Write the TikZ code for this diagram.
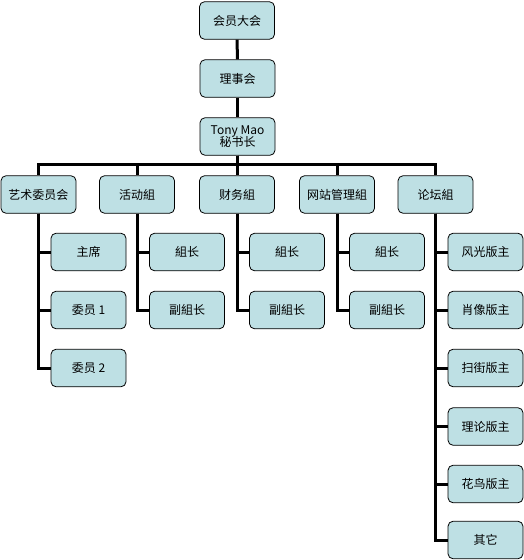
\documentclass[tikz,border=0pt]{standalone}
\usepackage{fontspec}
\newfontfamily\cjk{Noto Sans CJK SC}
\definecolor{boxfill}{RGB}{190,224,228}
\begin{document}
\begin{tikzpicture}[x=1pt,y=1pt,
  orgbox/.style={draw=black, line width=0.8pt, fill=boxfill, rounded corners=5pt,
    minimum width=75pt, minimum height=37.5pt, inner sep=1pt, align=center,
    font=\cjk\fontsize{12}{14}\selectfont},
  link/.style={draw=black, line width=3pt}]
\useasboundingbox (0,0) rectangle (524,-560);
% top chain
\node[orgbox] (hy) at (237,-20.5) {会员大会};
\node[orgbox] (ls) at (237.5,-78.5) {理事会};
\node[orgbox] (ms) at (237.5,-136.5) {Tony Mao\\[-2pt]秘书长};
% level 2
\node[orgbox] (ys) at (38.5,-194.5) {艺术委员会};
\node[orgbox] (hd) at (137,-194.5) {活动組};
\node[orgbox] (cw) at (237,-194.5) {财务組};
\node[orgbox] (wz) at (337,-194.5) {网站管理組};
\node[orgbox] (lt) at (435.5,-194.5) {论坛組};
% children of 艺术委员会
\node[orgbox] (ys1) at (88.5,-252) {主席};
\node[orgbox] (ys2) at (88.5,-310) {委员 1};
\node[orgbox] (ys3) at (88.5,-368) {委员 2};
% children of 活动組
\node[orgbox] (hd1) at (187,-252) {組长};
\node[orgbox] (hd2) at (187,-310) {副組长};
% children of 财务組
\node[orgbox] (cw1) at (287,-252) {組长};
\node[orgbox] (cw2) at (287,-310) {副組长};
% children of 网站管理組
\node[orgbox] (wz1) at (387,-252) {組长};
\node[orgbox] (wz2) at (387,-310) {副組长};
% children of 论坛組
\node[orgbox] (lt1) at (485.5,-252) {风光版主};
\node[orgbox] (lt2) at (485.5,-310) {肖像版主};
\node[orgbox] (lt3) at (485.5,-368) {扫街版主};
\node[orgbox] (lt4) at (485.5,-426.5) {理论版主};
\node[orgbox] (lt5) at (485.5,-484) {花鸟版主};
\node[orgbox] (lt6) at (485.5,-540) {其它};
% connectors
\path[link] (hy.south) -- (ls.north);
\path[link] (ls.south) -- (ms.north);
\coordinate (bus) at ([yshift=-9pt]ms.south);
\foreach \n in {ys,hd,cw,wz,lt}{
  \path[link] (ms.south) -- (bus) -| (\n.north);
}
\foreach \p/\c in {ys/ys1,ys/ys2,ys/ys3,hd/hd1,hd/hd2,cw/cw1,cw/cw2,wz/wz1,wz/wz2,lt/lt1,lt/lt2,lt/lt3,lt/lt4,lt/lt5,lt/lt6}{
  \path[link] (\p.south) |- (\c.west);
}
\end{tikzpicture}
\end{document}
